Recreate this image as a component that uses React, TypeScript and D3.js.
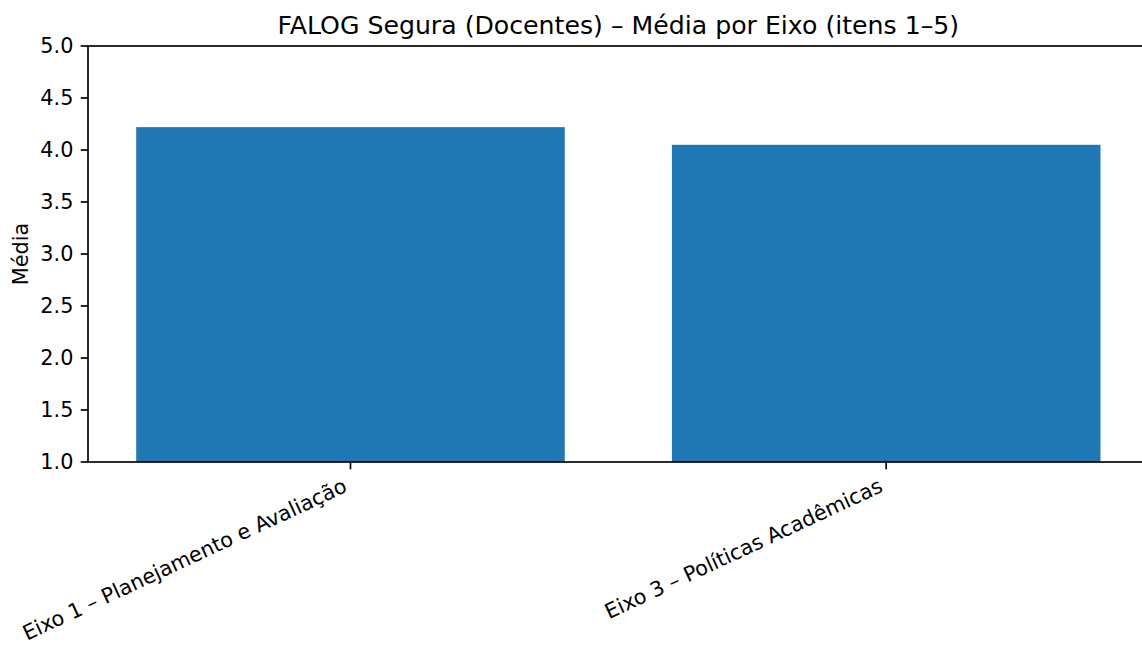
import React from "react";
import * as d3 from "d3";

const categories = ["Eixo 1 – Planejamento e Avaliação", "Eixo 3 – Políticas Acadêmicas"];
const values = [4.22, 4.05];
const yTicks = [1.0, 1.5, 2.0, 2.5, 3.0, 3.5, 4.0, 4.5, 5.0];
const title = "FALOG Segura (Docentes) – Média por Eixo (itens 1–5)";
const yLabel = "Média";

const W = 1142;
const H = 645;
const FONT = "DejaVu Sans, sans-serif";

export default function App() {
  const left = 88;
  const top = 46;
  const bottom = 462;
  const unit = 535.7;
  const x = d3.scaleLinear().domain([-0.49, 1.49]).range([left, left + unit * 1.98]);
  const y = d3.scaleLinear().domain([1, 5]).range([bottom, top]);
  const right = x(1.49);
  const barW = x(0.8) - x(0);
  const fs = 20.8;
  const asc = 0.76 * fs;
  const desc = 0.24 * fs;
  const tick = 7.3;
  const pad = 7.3;
  const rot = 25;
  const rr = (rot * Math.PI) / 180;

  return (
    <div style={{ position: "absolute", left: 0, top: 0 }}>
      <svg width={W} height={H} style={{ display: "block" }} fontFamily={FONT}>
        <rect x={0} y={0} width={W} height={H} fill="#fff" />
        {values.map((v, i) => (
          <rect
            key={i}
            x={x(i) - barW / 2}
            y={y(v)}
            width={barW}
            height={y(1) - y(v)}
            fill="#1f77b4"
          />
        ))}
        <rect
          x={left}
          y={top}
          width={right - left}
          height={bottom - top}
          fill="none"
          stroke="#000"
          strokeWidth={1.67}
        />
        {yTicks.map((t) => (
          <g key={t}>
            <line x1={left - tick} x2={left} y1={y(t)} y2={y(t)} stroke="#000" strokeWidth={1.67} />
            <text x={left - tick - pad} y={y(t)} dy="0.36em" textAnchor="end" fontSize={fs} fill="#000">
              {t.toFixed(1)}
            </text>
          </g>
        ))}
        {categories.map((c, i) => {
          const tx = x(i);
          const ax = tx - Math.sin(rr) * desc;
          const ay = bottom + tick + pad + Math.cos(rr) * asc;
          return (
            <g key={c}>
              <line x1={tx} x2={tx} y1={bottom} y2={bottom + tick} stroke="#000" strokeWidth={1.67} />
              <text
                x={ax}
                y={ay}
                transform={`rotate(${-rot} ${ax} ${ay})`}
                textAnchor="end"
                fontSize={fs}
                fill="#000"
              >
                {c}
              </text>
            </g>
          );
        })}
        <text
          x={(left + right) / 2}
          y={top - 12.5}
          textAnchor="middle"
          fontSize={25.2}
          fill="#000"
        >
          {title}
        </text>
        <text
          transform={`translate(28 ${(top + bottom) / 2}) rotate(-90)`}
          textAnchor="middle"
          fontSize={fs}
          fill="#000"
        >
          {yLabel}
        </text>
      </svg>
    </div>
  );
}
